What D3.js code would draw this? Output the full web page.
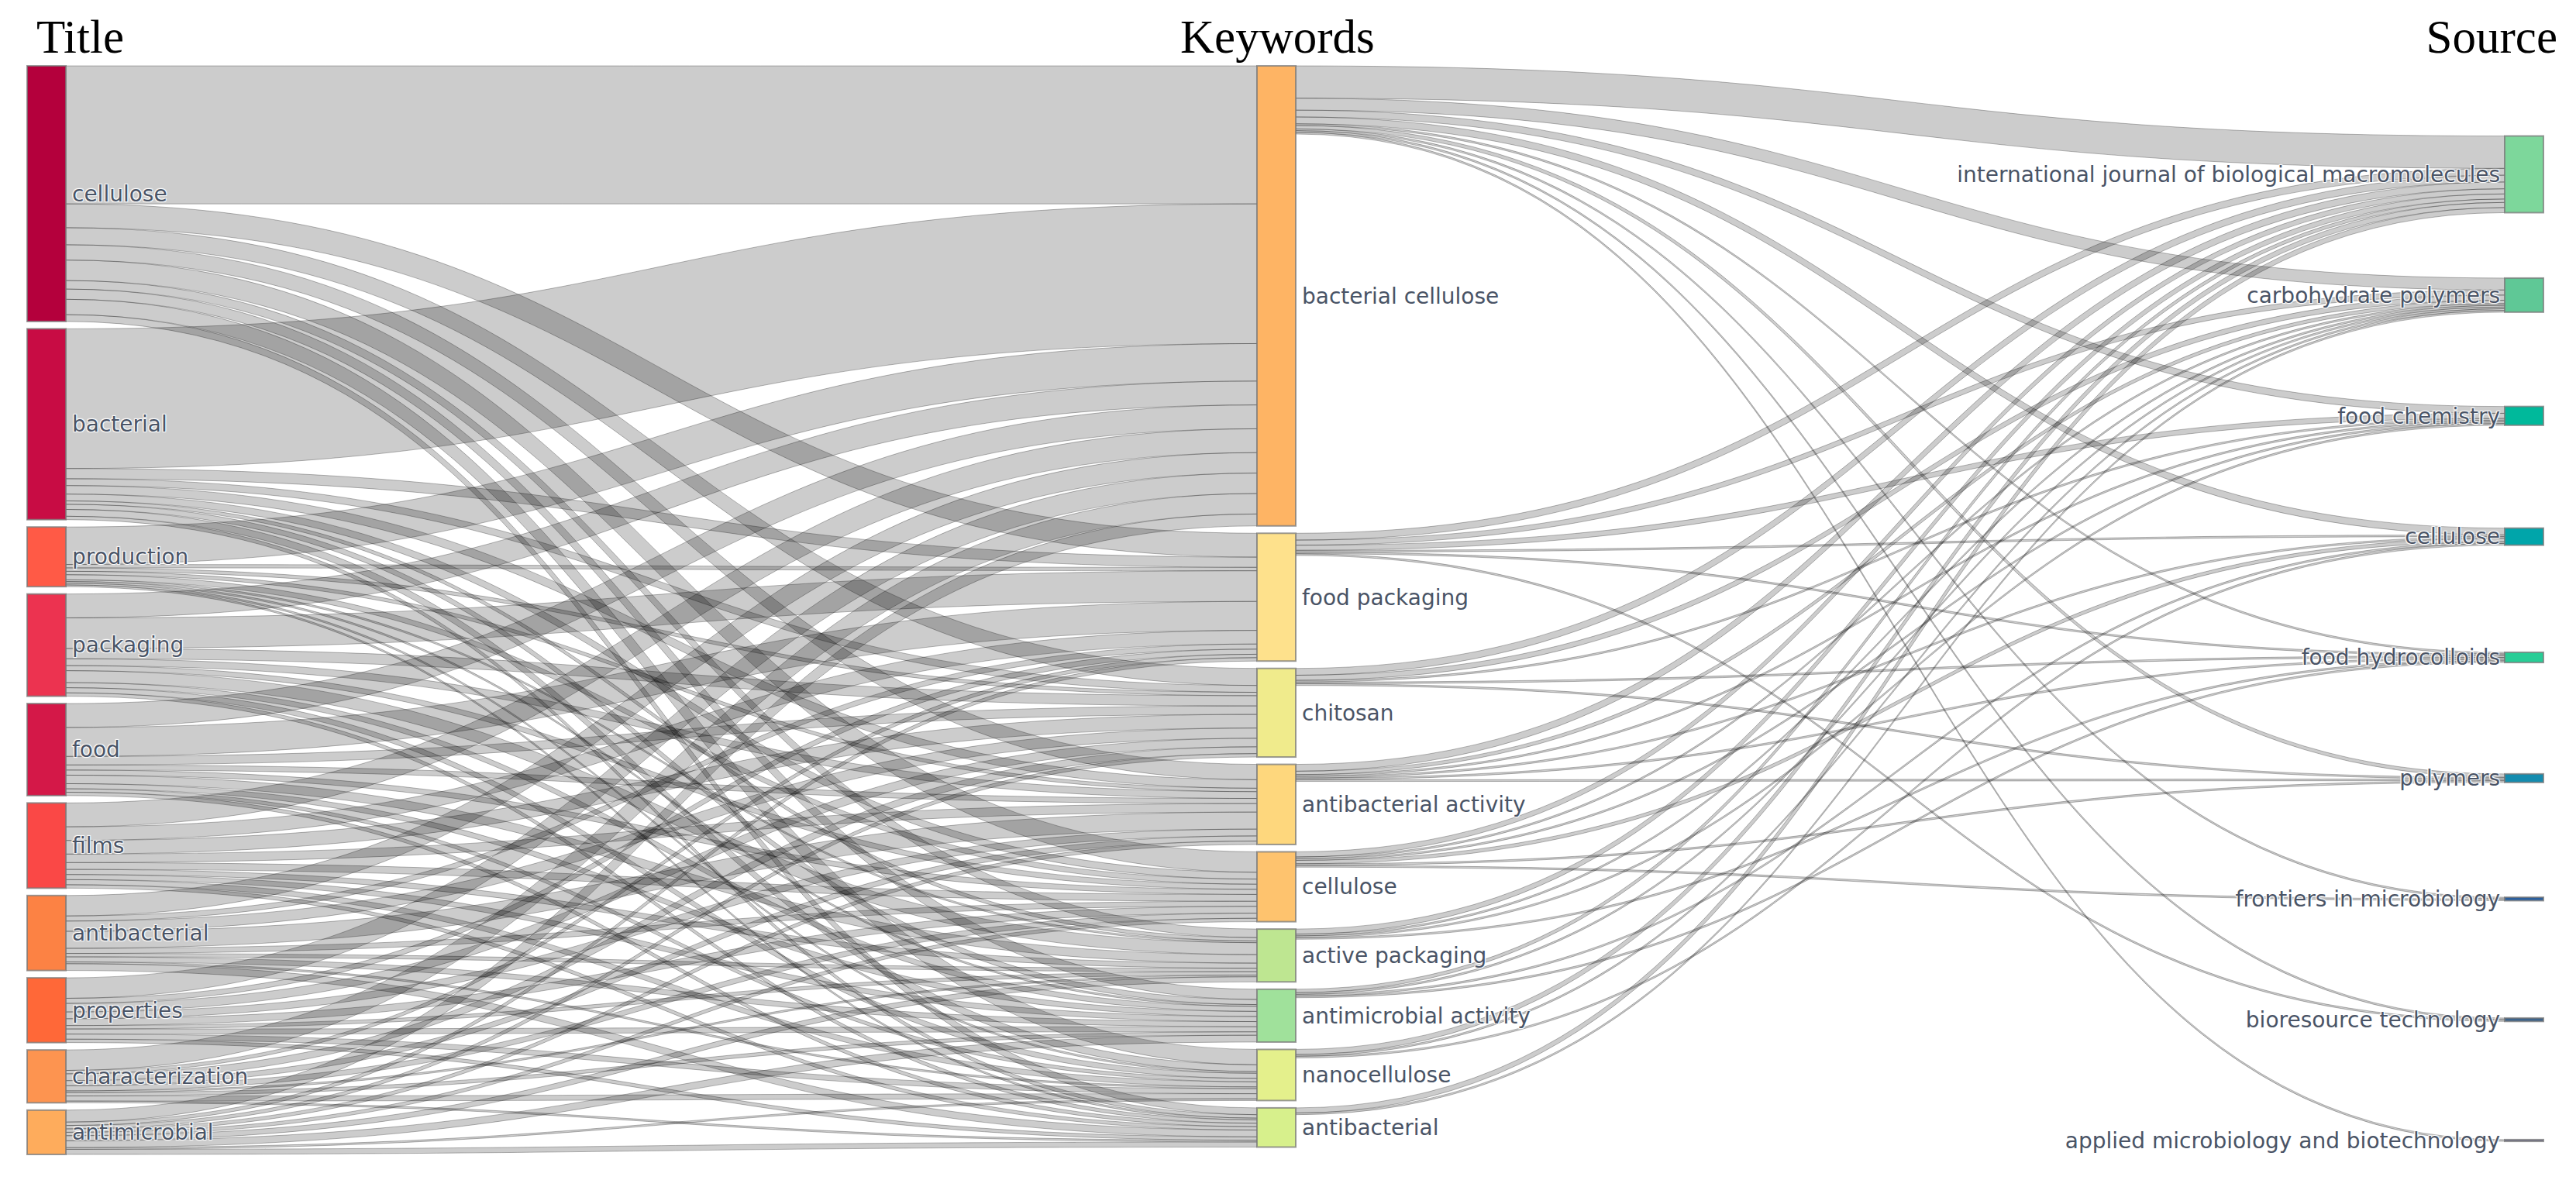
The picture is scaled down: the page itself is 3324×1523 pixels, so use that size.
<!DOCTYPE html>
<html><head><meta charset="utf-8">
<script src="https://cdn.jsdelivr.net/npm/d3@7"></script>
<style>
html,body{margin:0;padding:0;background:#fff;}
text.lbl{font-family:"DejaVu Sans",Verdana,sans-serif;font-size:28px;fill:#4a5466;
 text-shadow:1px 1px 1px #fff,-1px -1px 1px #fff,1px -1px 1px #fff,-1px 1px 1px #fff;}
text.ctitle{font-family:"Liberation Serif","Times New Roman",serif;font-size:61px;fill:#000;}
</style></head><body>
<svg id="chart" width="3324" height="1523"></svg>
<script>
// ---------- DATA ----------
const columnTitles = ["Title", "Keywords", "Source"];

const titleNodes = ["cellulose","bacterial","production","packaging","food","films",
  "antibacterial","properties","characterization","antimicrobial"];
const titleColors = ["#b4003c","#c80c44","#ff5a46","#ec3350","#d41848","#fa4846",
  "#fc8244","#ff6838","#fd9450","#feac5c"];

const keywordNodes = ["bacterial cellulose","food packaging","chitosan","antibacterial activity",
  "cellulose","active packaging","antimicrobial activity","nanocellulose","antibacterial"];
const keywordColors = ["#feb464","#fee18c","#f0eb8c","#fed77d","#fec36e","#bee691",
  "#a0e19b","#e4f08c","#d7f08c"];

const sourceNodes = ["international journal of biological macromolecules","carbohydrate polymers",
  "food chemistry","cellulose","food hydrocolloids","polymers","frontiers in microbiology",
  "bioresource technology","applied microbiology and biotechnology"];
const sourceColors = ["#7dd79b","#5fc896","#00b99b","#00a5aa","#28cd96","#148caf",
  "#285fa0","#3c648c","#6e6e96"];

// rows: title terms, columns: keywords (same order as keywordNodes)
const titleToKeyword = [
  [81,14,10, 9,12, 5, 6, 9, 4],
  [82, 6, 4, 5, 4, 2, 3, 4, 2],
  [22, 2, 2, 2, 3, 1, 1, 1, 1],
  [14,18, 6, 4, 3, 7, 3, 3, 2],
  [14,17, 5, 3, 3, 5, 3, 2, 2],
  [14, 8, 8, 5, 4, 3, 3, 3, 2],
  [12, 3, 6,10, 3, 2, 3, 1, 4],
  [12, 3, 5, 4, 4, 2, 3, 3, 2],
  [12, 2, 4, 3, 3, 1, 2, 3, 1],
  [ 7, 2, 2, 2, 2, 3, 4, 1, 3]
];
// rows: keywords, columns: sources (same order as sourceNodes)
const keywordToSource = [
  [19, 7, 4, 4, 1, 2, 1, 1, 1],
  [ 4, 3, 3, 1, 1, 0, 0, 1, 0],
  [ 4, 3, 1, 0, 1, 1, 0, 0, 0],
  [ 4, 2, 1, 1, 1, 1, 0, 0, 0],
  [ 3, 1, 1, 2, 0, 1, 1, 0, 0],
  [ 3, 1, 1, 0, 1, 0, 0, 0, 0],
  [ 2, 1, 0, 1, 1, 0, 0, 0, 0],
  [ 3, 1, 0, 1, 0, 0, 0, 0, 0],
  [ 3, 1, 0, 0, 0, 0, 0, 0, 0]
];

// ---------- LAYOUT ----------
const svg = d3.select("#chart");
const nodeWidth = 50, nodePad = 9.5, yTop = 85, yBottom = 1490;
const colX = d3.scaleOrdinal().domain([0,1,2]).range([35,1622,3232]);

const columns = [titleNodes, keywordNodes, sourceNodes];
const colColors = [titleColors, keywordColors, sourceColors];
const nodes = [];
columns.forEach((names,c)=>names.forEach((name,i)=>nodes.push({
  col:c, idx:i, name, color:colColors[c][i], inV:0, outV:0, outLinks:[], inLinks:[]})));
const nodeAt = (c,i)=>nodes.find(n=>n.col===c && n.idx===i);

const links = [];
titleToKeyword.forEach((row,i)=>row.forEach((v,j)=>{ if(v>0) links.push({s:nodeAt(0,i), t:nodeAt(1,j), v}); }));
keywordToSource.forEach((row,i)=>row.forEach((v,j)=>{ if(v>0) links.push({s:nodeAt(1,i), t:nodeAt(2,j), v}); }));
links.forEach(l=>{ l.s.outV+=l.v; l.t.inV+=l.v; l.s.outLinks.push(l); l.t.inLinks.push(l); });
nodes.forEach(n=>{ n.value = Math.max(n.inV, n.outV); n.x0 = colX(n.col); n.x1 = n.x0 + nodeWidth; });

const col0Total = d3.sum(nodes.filter(n=>n.col===0), n=>n.value);
const y = d3.scaleLinear().domain([0,col0Total]).range([0, yBottom-yTop-(titleNodes.length-1)*nodePad]);

[0,1].forEach(c=>{
  let yy = yTop;
  nodes.filter(n=>n.col===c).forEach(n=>{ n.y0 = yy; n.y1 = yy + y(n.value); yy = n.y1 + nodePad; });
});
const rightCenter = d3.scalePoint().domain(d3.range(sourceNodes.length)).range([225,1472]);
nodes.filter(n=>n.col===2).forEach(n=>{
  const h = y(n.value), c = rightCenter(n.idx);
  n.y0 = c - h/2; n.y1 = c + h/2;
});

nodes.forEach(n=>{
  let yo = n.y0;
  n.outLinks.sort((a,b)=>a.t.idx-b.t.idx).forEach(l=>{ l.w = y(l.v); l.sy = yo; yo += l.w; });
  let yi = n.y0;
  n.inLinks.sort((a,b)=>a.s.idx-b.s.idx).forEach(l=>{ l.ty = yi; yi += y(l.v); });
});

function linkPath(l){
  const x0 = l.s.x1, x1 = l.t.x0, xi = d3.interpolateNumber(x0,x1);
  const c0 = xi(0.5), c1 = xi(0.5);
  const p = d3.path();
  p.moveTo(x0, l.sy);
  p.bezierCurveTo(c0, l.sy, c1, l.ty, x1, l.ty);
  p.lineTo(x1, l.ty + l.w);
  p.bezierCurveTo(c1, l.ty + l.w, c0, l.sy + l.w, x0, l.sy + l.w);
  p.closePath();
  return p.toString();
}

svg.append("g").selectAll("path").data(links).join("path")
  .attr("d", linkPath)
  .attr("fill", "rgba(0,0,0,0.2)")
  .attr("stroke", "rgba(0,0,0,0.28)")
  .attr("stroke-width", 1);

svg.append("g").selectAll("rect").data(nodes).join("rect")
  .attr("x", d=>d.x0).attr("y", d=>d.y0)
  .attr("width", nodeWidth).attr("height", d=>Math.max(1, d.y1-d.y0))
  .attr("fill", d=>d.color)
  .attr("stroke", "#7a7a7a").attr("stroke-opacity", 0.75).attr("stroke-width", 2);

svg.append("g").selectAll("text").data(nodes).join("text")
  .attr("class","lbl")
  .attr("x", d=> d.col===2 ? d.x0 - 6 : d.x1 + 8)
  .attr("y", d=> (d.y0+d.y1)/2)
  .attr("dy", "0.35em")
  .attr("text-anchor", d=> d.col===2 ? "end" : "start")
  .text(d=>d.name);

const titleX = [{x:47, a:"start"},{x:1523, a:"start"},{x:3300, a:"end"}];
svg.append("g").selectAll("text").data(columnTitles).join("text")
  .attr("class","ctitle")
  .attr("x", (d,i)=>titleX[i].x).attr("y", 68)
  .attr("text-anchor", (d,i)=>titleX[i].a)
  .text(d=>d);
</script>
</body></html>
